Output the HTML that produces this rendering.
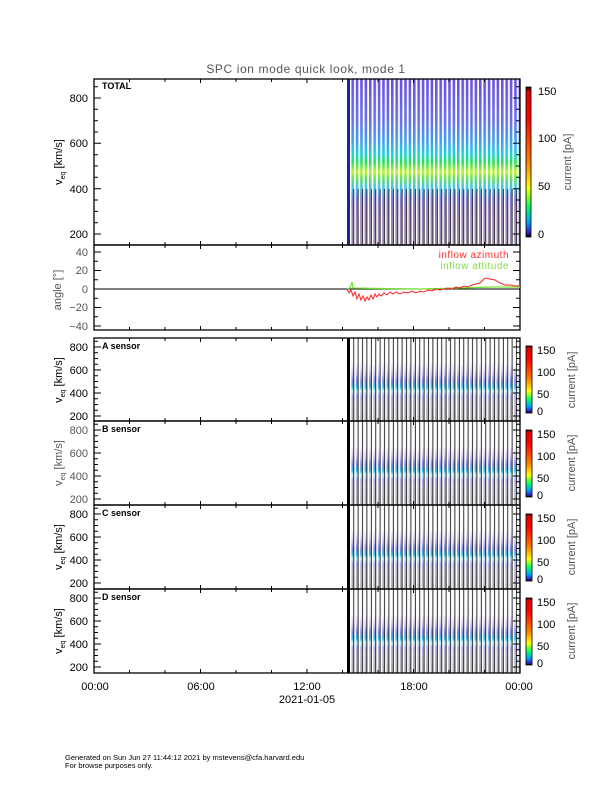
<!DOCTYPE html>
<html><head><meta charset="utf-8"><style>
html,body{margin:0;padding:0;background:#fff;}
svg{display:block;font-family:"Liberation Sans",sans-serif;}
</style></head><body>
<svg id="s" width="612" height="792" viewBox="0 0 612 792" xmlns="http://www.w3.org/2000/svg">
<defs>
<linearGradient id="cb" x1="0" y1="1" x2="0" y2="0">
<stop offset="0" stop-color="#000"/><stop offset="0.03" stop-color="#3020c0"/><stop offset="0.1" stop-color="#00a0ff"/><stop offset="0.2" stop-color="#00ff60"/><stop offset="0.33" stop-color="#ffff00"/><stop offset="0.5" stop-color="#ff8000"/><stop offset="0.8" stop-color="#ff0000"/><stop offset="0.97" stop-color="#e00000"/><stop offset="1" stop-color="#000"/>
</linearGradient>
<linearGradient id="tot" x1="0" y1="0" x2="0" y2="1">
<stop offset="0" stop-color="#6a50e0"/><stop offset="0.25" stop-color="#6a70e8"/><stop offset="0.38" stop-color="#40a0f0"/><stop offset="0.45" stop-color="#20d0e0"/><stop offset="0.5" stop-color="#20e060"/><stop offset="0.56" stop-color="#c0f030"/><stop offset="0.6" stop-color="#60e060"/><stop offset="0.66" stop-color="#40c0f0"/><stop offset="0.72" stop-color="#8080e0"/><stop offset="0.8" stop-color="#9a80c0"/><stop offset="1" stop-color="#9a8aa8"/>
</linearGradient>
<linearGradient id="sen" x1="0" y1="0" x2="0" y2="1">
<stop offset="0" stop-color="#fff"/><stop offset="0.3" stop-color="#fafaff"/><stop offset="0.42" stop-color="#d8c8f4"/><stop offset="0.52" stop-color="#8090f0"/><stop offset="0.59" stop-color="#30c0f0"/><stop offset="0.64" stop-color="#c0f4ff"/><stop offset="0.7" stop-color="#b0b0f0"/><stop offset="0.78" stop-color="#c0b8d0"/><stop offset="1" stop-color="#b0b0b0"/>
</linearGradient>
<pattern id="st" x="347" y="0" width="4.4" height="10" patternUnits="userSpaceOnUse">
<rect x="2.6" y="0" width="1.8" height="10" fill="#fff"/>
</pattern>
<pattern id="stb" x="347" y="0" width="4.4" height="10" patternUnits="userSpaceOnUse">
<rect x="2" y="0" width="0.8" height="10" fill="#000"/><rect x="2.8" y="0" width="1.6" height="10" fill="#fff"/>
</pattern>
<pattern id="sts" x="347" y="0" width="4.4" height="10" patternUnits="userSpaceOnUse">
<rect x="1.9" y="0" width="0.9" height="10" fill="#000"/><rect x="2.8" y="0" width="1.6" height="10" fill="#fff"/>
</pattern>
</defs>

<text x="306" y="73" font-size="12" fill="#555" text-anchor="middle" letter-spacing="0.6">SPC ion mode quick look, mode 1</text>

<!-- TOTAL panel -->
<rect x="347" y="79" width="173" height="166" fill="url(#tot)"/>
<rect x="347" y="79" width="173" height="110" fill="url(#st)"/>
<rect x="347" y="189" width="173" height="56" fill="url(#stb)"/>
<rect x="347" y="79" width="3" height="166" fill="#2020a0"/>
<rect x="94" y="79" width="426" height="166" fill="none" stroke="#000" stroke-width="1.3"/>
<text x="102" y="89" font-size="9" font-weight="bold">TOTAL</text>
<g font-size="11" text-anchor="end">
<text x="88" y="102">800</text><text x="88" y="147">600</text><text x="88" y="193">400</text><text x="88" y="238">200</text>
</g>
<text transform="translate(62,162) rotate(-90)" font-size="11" text-anchor="middle">v<tspan font-size="7" dy="3">eq</tspan><tspan dy="-3"> [km/s]</tspan></text>
<rect x="526" y="87" width="5" height="150" fill="url(#cb)" stroke="#000" stroke-width="0.8"/>
<g font-size="11"><text x="538" y="95">150</text><text x="538" y="142">100</text><text x="538" y="190">50</text><text x="538" y="238">0</text></g>
<text transform="translate(571,162) rotate(-90)" font-size="11" fill="#555" text-anchor="middle">current [pA]</text>

<!-- angle panel -->
<rect x="94" y="245" width="426" height="85" fill="none" stroke="#000" stroke-width="1.3"/>
<line x1="94" y1="289" x2="520" y2="289" stroke="#000"/>
<g font-size="11" fill="#555" text-anchor="end">
<text x="88" y="256">40</text><text x="88" y="274">20</text><text x="88" y="293">0</text><text x="88" y="311">−20</text><text x="88" y="330">−40</text>
</g>
<text transform="translate(61,290) rotate(-90)" font-size="11" fill="#555" text-anchor="middle">angle [°]</text>
<text x="509" y="258" font-size="10" fill="#ff3030" text-anchor="end" letter-spacing="0.5">inflow azimuth</text>
<text x="509" y="269" font-size="10" fill="#80e040" text-anchor="end" letter-spacing="0.5">inflow attitude</text>
<polyline fill="none" stroke="#70e030" stroke-width="1.2" points="347,289 350,288 352,282 353,288 380,288.5 420,289 460,288 490,287 520,287"/>
<polyline fill="none" stroke="#ff2020" stroke-width="1" points="347,289 349,293 351,290 353,296 355,292 357,299 359,294 361,300 363,296 365,301 367,297 369,300 371,295 373,299 375,294 377,297 379,294 381,296 384,293 387,295 390,292 393,294 396,292 400,294 404,292 408,293 412,291 416,293 420,291 424,292 428,290 432,291 436,289 440,290 444,289 448,288 452,289 456,287 460,288 464,286 468,287 472,285 476,284 480,283 483,280 485,278 490,279 495,280 500,283 505,285 510,285 515,286 520,286"/>

<!-- sensor panels -->
<rect x="347" y="338" width="173" height="83" fill="url(#sen)"/>
<rect x="347" y="338" width="173" height="83" fill="url(#sts)"/>
<rect x="347" y="338" width="3" height="83" fill="#000"/>
<rect x="347" y="421" width="173" height="84" fill="url(#sen)"/>
<rect x="347" y="421" width="173" height="84" fill="url(#sts)"/>
<rect x="347" y="421" width="3" height="84" fill="#000"/>
<rect x="347" y="505" width="173" height="84" fill="url(#sen)"/>
<rect x="347" y="505" width="173" height="84" fill="url(#sts)"/>
<rect x="347" y="505" width="3" height="84" fill="#000"/>
<rect x="347" y="589" width="173" height="84" fill="url(#sen)"/>
<rect x="347" y="589" width="173" height="84" fill="url(#sts)"/>
<rect x="347" y="589" width="3" height="84" fill="#000"/>

<g fill="none" stroke="#000" stroke-width="1.3">
<rect x="94" y="338" width="426" height="83"/>
<rect x="94" y="421" width="426" height="84"/>
<rect x="94" y="505" width="426" height="84"/>
<rect x="94" y="589" width="426" height="84"/>
</g>
<g font-size="9" font-weight="bold">
<text x="102" y="349">A sensor</text><text x="102" y="432">B sensor</text><text x="102" y="516">C sensor</text><text x="102" y="600">D sensor</text>
</g>
<g font-size="11" text-anchor="end">
<text x="88" y="351">800</text><text x="88" y="374">600</text><text x="88" y="397">400</text><text x="88" y="420">200</text>
</g>
<g font-size="11" text-anchor="end" fill="#555">
<text x="88" y="434">800</text><text x="88" y="457">600</text><text x="88" y="480">400</text><text x="88" y="503">200</text>
</g>
<g font-size="11" text-anchor="end">
<text x="88" y="518">800</text><text x="88" y="541">600</text><text x="88" y="564">400</text><text x="88" y="587">200</text>
<text x="88" y="602">800</text><text x="88" y="625">600</text><text x="88" y="648">400</text><text x="88" y="671">200</text>
</g>
<g font-size="11" text-anchor="middle">
<text transform="translate(62,380) rotate(-90)">v<tspan font-size="7" dy="3">eq</tspan><tspan dy="-3"> [km/s]</tspan></text>
<text transform="translate(62,463) rotate(-90)" fill="#555">v<tspan font-size="7" dy="3">eq</tspan><tspan dy="-3"> [km/s]</tspan></text>
<text transform="translate(62,547) rotate(-90)">v<tspan font-size="7" dy="3">eq</tspan><tspan dy="-3"> [km/s]</tspan></text>
<text transform="translate(62,631) rotate(-90)">v<tspan font-size="7" dy="3">eq</tspan><tspan dy="-3"> [km/s]</tspan></text>
</g>
<g>
<rect x="526" y="346" width="6" height="67" fill="url(#cb)" stroke="#000" stroke-width="0.8"/>
<rect x="526" y="430" width="6" height="67" fill="url(#cb)" stroke="#000" stroke-width="0.8"/>
<rect x="526" y="514" width="6" height="67" fill="url(#cb)" stroke="#000" stroke-width="0.8"/>
<rect x="526" y="598" width="6" height="67" fill="url(#cb)" stroke="#000" stroke-width="0.8"/>
</g>
<g font-size="11">
<text x="537" y="354">150</text><text x="537" y="376">100</text><text x="537" y="398">50</text><text x="537" y="415">0</text>
<text x="537" y="438">150</text><text x="537" y="460">100</text><text x="537" y="482">50</text><text x="537" y="499">0</text>
<text x="537" y="522">150</text><text x="537" y="544">100</text><text x="537" y="566">50</text><text x="537" y="583">0</text>
<text x="537" y="606">150</text><text x="537" y="628">100</text><text x="537" y="650">50</text><text x="537" y="667">0</text>
</g>
<g font-size="11" fill="#555" text-anchor="middle">
<text transform="translate(575,380) rotate(-90)">current [pA]</text>
<text transform="translate(575,463) rotate(-90)">current [pA]</text>
<text transform="translate(575,547) rotate(-90)">current [pA]</text>
<text transform="translate(575,631) rotate(-90)">current [pA]</text>
</g>

<g id="ticks" stroke="#000" stroke-width="1" fill="none"></g>

<!-- x axis -->
<g font-size="11" text-anchor="middle">
<text x="95" y="690">00:00</text><text x="201" y="690">06:00</text><text x="307" y="690">12:00</text><text x="414" y="690">18:00</text><text x="519" y="690">00:00</text>
<text x="307" y="703">2021-01-05</text>
</g>
<g font-size="7.5">
<text x="65" y="760">Generated on Sun Jun 27 11:44:12 2021 by mstevens@cfa.harvard.edu</text>
<text x="65" y="768">For browse purposes only.</text>
</g>
</svg>
<script>
(function(){
var d="";
function vt(y,len){d+="M94 "+y.toFixed(1)+"h"+len+"M520 "+y.toFixed(1)+"h-"+len;}
for(var v=200;v<=850;v+=50){var y=98+(800-v)*0.2267;vt(y,v%200==0?7:4);}
for(var a=-40;a<=40;a+=10){var y=289-a*0.925;vt(y,a%20==0?7:4);}
[338,421,505,589].forEach(function(t){for(var v=200;v<=850;v+=50){var y=t+9+(800-v)*0.115;if(y>t&&y<t+84)vt(y,v%200==0?7:4);}});
var panels=[[79,245],[245,330],[338,421],[421,505],[505,589],[589,673]];
panels.forEach(function(p){for(var h=2;h<24;h+=2){var x=94+h*426/24;var L=h%6==0?4:3;d+="M"+x.toFixed(1)+" "+p[0]+"v"+L+"M"+x.toFixed(1)+" "+p[1]+"v-"+L;}});
var path=document.createElementNS("http://www.w3.org/2000/svg","path");
path.setAttribute("d",d);document.getElementById("ticks").appendChild(path);
})();
</script>
</body></html>
